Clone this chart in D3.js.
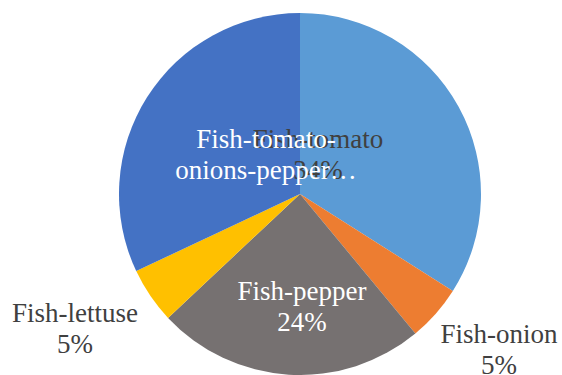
<!DOCTYPE html>
<html>
<head>
<meta charset="utf-8">
<script src="https://cdn.jsdelivr.net/npm/d3@7"></script>
<style>
  body { margin: 0; background: #fff; }
</style>
</head>
<body>
<script>
var w = 562, h = 375;

// data
var categories = ["Fish-tomato", "Fish-onion", "Fish-pepper", "Fish-lettuse", "Fish-tomato-onions-pepper"];
var values = [34, 5, 24, 5, 32];
var colors = ["#5B9BD5", "#ED7D31", "#767171", "#FFC000", "#4472C4"];

// label layout (Excel "best fit" positions), drawn in this order
var labelLayout = [
  { i: 0, x: 318, y: 148, lines: ["Fish-tomato", "34%"], fill: "#404040" },
  { i: 1, x: 499, y: 343, lines: ["Fish-onion", "5%"], fill: "#404040" },
  { i: 2, x: 302, y: 300, lines: ["Fish-pepper", "24%"], fill: "#ffffff" },
  { i: 3, x: 75, y: 322, lines: ["Fish-lettuse", "5%"], fill: "#404040" },
  { i: 4, x: 266, y: 148, lines: ["Fish-tomato-", "onions-pepper\u2026"], fill: "#ffffff" }
];

var cx = 300, cy = 194, radius = 181;

var svg = d3.select("body").append("svg")
  .attr("width", w)
  .attr("height", h);

var pie = d3.pie().sort(null).value(function(d) { return d; });
var arc = d3.arc().innerRadius(0).outerRadius(radius);

var g = svg.append("g")
  .attr("transform", "translate(" + cx + "," + cy + ")");

g.selectAll("path")
  .data(pie(values))
  .enter()
  .append("path")
  .attr("d", arc)
  .attr("fill", function(d, i) { return colors[i]; });

var lineH = 31;
labelLayout.forEach(function(l) {
  var t = svg.append("text")
    .attr("text-anchor", "middle")
    .attr("font-family", "'Liberation Serif', 'Times New Roman', Times, serif")
    .attr("font-size", "27px")
    .attr("fill", l.fill);
  l.lines.forEach(function(s, k) {
    t.append("tspan")
      .attr("x", l.x)
      .attr("y", l.y + k * lineH)
      .text(s);
  });
});
</script>
</body>
</html>
